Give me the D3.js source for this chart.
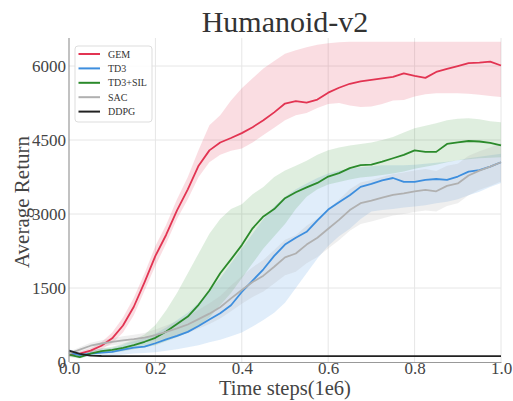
<!DOCTYPE html>
<html>
<head>
<meta charset="utf-8">
<script src="https://cdn.jsdelivr.net/npm/d3@7"></script>
<style>
  body { margin: 0; background: #fff; }
  svg { display: block; }
  .tick text { font-family: "Liberation Serif", "Times New Roman", serif; }
</style>
</head>
<body>
<svg id="chart"></svg>
<script>
// timesteps (1e6)
const steps = [0, 0.025, 0.05, 0.075, 0.1, 0.125, 0.15, 0.175, 0.2, 0.225, 0.25, 0.275, 0.3, 0.325, 0.35, 0.375, 0.4,
  0.425, 0.45, 0.475, 0.5, 0.525, 0.55, 0.575, 0.6, 0.625, 0.65, 0.675, 0.7, 0.725, 0.75, 0.775, 0.8,
  0.825, 0.85, 0.875, 0.9, 0.925, 0.95, 0.975, 1.0];

const gemMean = [150, 170, 230, 330, 480, 740, 1120, 1620, 2150, 2580, 3075, 3500, 3980, 4290, 4450, 4540, 4640,
  4760, 4900, 5060, 5240, 5290, 5260, 5320, 5460, 5560, 5640, 5690, 5720, 5750, 5780, 5850, 5800,
  5760, 5880, 5940, 6000, 6060, 6070, 6090, 6010];
const gemLow = [100, 130, 180, 260, 380, 600, 950, 1450, 1950, 2400, 2900, 3300, 3750, 4050, 4200, 4280, 4330,
  4450, 4600, 4750, 4900, 5000, 5050, 5150, 5230, 5250, 5200, 5170, 5180, 5230, 5300, 5310, 5380,
  5430, 5450, 5450, 5450, 5440, 5420, 5390, 5370];
const gemHigh = [200, 210, 280, 400, 600, 900, 1300, 1800, 2350, 2780, 3300, 3750, 4300, 4800, 5000, 5300, 5550,
  5750, 5950, 6100, 6250, 6320, 6380, 6430, 6460, 6480, 6490, 6490, 6490, 6490, 6490, 6490, 6490,
  6490, 6490, 6490, 6490, 6490, 6490, 6490, 6490];

const td3Mean = [190, 140, 170, 190, 205, 250, 290, 310, 380, 460, 530, 610, 730, 860, 990, 1150, 1420,
  1650, 1880, 2150, 2380, 2520, 2640, 2870, 3090, 3240, 3380, 3550, 3610, 3680, 3730, 3650, 3650,
  3690, 3710, 3690, 3760, 3860, 3890, 3960, 4050];
const td3Low = [120, 90, 110, 120, 130, 150, 170, 180, 200, 230, 260, 300, 340, 400, 450, 520, 600,
  720, 850, 1000, 1200, 1500, 1800, 2100, 2350, 2550, 2700, 2900, 3050, 3080, 3100, 3130, 3150,
  3180, 3220, 3250, 3300, 3380, 3450, 3550, 3630];
const td3High = [260, 200, 240, 270, 290, 350, 420, 480, 580, 700, 850, 1000, 1200, 1450, 1700, 2000, 2300,
  2600, 2900, 3150, 3350, 3500, 3620, 3730, 3820, 3880, 3920, 3950, 3970, 3990, 3990, 3990, 4000,
  4020, 4040, 4060, 4090, 4130, 4160, 4190, 4220];

const silMean = [150, 100, 170, 220, 245, 285, 340, 410, 490, 620, 770, 920, 1160, 1450, 1800, 2080, 2370,
  2710, 2950, 3100, 3320, 3440, 3540, 3630, 3760, 3830, 3930, 3990, 4000, 4060, 4130, 4200, 4290,
  4260, 4260, 4420, 4450, 4480, 4470, 4440, 4390];
const silLow = [100, 70, 130, 170, 190, 220, 260, 300, 340, 420, 500, 600, 730, 900, 1150, 1400, 1700,
  2000, 2300, 2550, 2800, 3100, 3350, 3500, 3600, 3650, 3700, 3740, 3760, 3790, 3820, 3860, 3920,
  3960, 4000, 4050, 4090, 4110, 4130, 4140, 4150];
const silHigh = [200, 140, 220, 280, 310, 370, 450, 560, 750, 1050, 1400, 1800, 2200, 2600, 2900, 3100, 3200,
  3400, 3550, 3750, 3880, 3980, 4080, 4200, 4290, 4350, 4390, 4420, 4450, 4500, 4560, 4650, 4740,
  4790, 4840, 4900, 4930, 4940, 4920, 4880, 4860];

const sacMean = [170, 250, 330, 375, 410, 440, 465, 495, 545, 610, 680, 760, 870, 980, 1110, 1290, 1460,
  1620, 1750, 1930, 2120, 2200, 2380, 2520, 2700, 2880, 3080, 3220, 3270, 3330, 3390, 3420, 3460,
  3490, 3460, 3570, 3620, 3780, 3880, 3960, 4050];
const sacLow = [130, 200, 270, 310, 340, 360, 380, 400, 430, 480, 530, 590, 680, 770, 880, 1030, 1180,
  1320, 1430, 1590, 1760, 1830, 2000, 2130, 2300, 2470, 2660, 2800, 2850, 2910, 2970, 3000, 3040,
  3070, 3050, 3160, 3220, 3380, 3490, 3570, 3660];
const sacHigh = [210, 300, 390, 440, 480, 520, 550, 590, 660, 740, 830, 930, 1060, 1190, 1340, 1550, 1740,
  1920, 2070, 2270, 2480, 2570, 2760, 2910, 3100, 3290, 3500, 3640, 3690, 3750, 3810, 3840, 3880,
  3910, 3870, 3980, 4020, 4180, 4270, 4350, 4440];

const ddpgMean = [230, 165, 130, 122, 120, 121, 120, 119, 120, 121, 120, 120, 119, 120, 121, 120, 120,
  120, 119, 120, 121, 120, 120, 120, 119, 120, 121, 120, 120, 120, 119, 120, 120, 121, 120, 120,
  119, 120, 120, 121, 120];

const names = ["GEM", "TD3", "TD3+SIL", "SAC", "DDPG"];
const colors = ["#e23452", "#3d8ede", "#2b8a2b", "#b0b0b0", "#222222"];
const xTicks = [0, 0.2, 0.4, 0.6, 0.8, 1.0];
const yTicks = [0, 1500, 3000, 4500, 6000];

const series = [
  { mean: gemMean, low: gemLow, high: gemHigh },
  { mean: td3Mean, low: td3Low, high: td3High },
  { mean: silMean, low: silLow, high: silHigh },
  { mean: sacMean, low: sacLow, high: sacHigh },
  { mean: ddpgMean, low: null, high: null }
];

const width = 513, height = 401;
const margin = { left: 69, right: 12, top: 38, bottom: 39 };

const svg = d3.select("#chart").attr("width", width).attr("height", height);

const x = d3.scaleLinear().domain([0, 1]).range([margin.left, width - margin.right]);
const y = d3.scaleLinear().domain([0, 6568]).range([height - margin.bottom, margin.top]);

const serif = "'Liberation Serif', 'Times New Roman', serif";

// grid
svg.append("g")
  .selectAll("line.vgrid")
  .data(xTicks.slice(1))
  .join("line")
  .attr("x1", d => x(d)).attr("x2", d => x(d))
  .attr("y1", y.range()[0]).attr("y2", y.range()[1])
  .attr("stroke", "#e6e6e6").attr("stroke-width", 1);

svg.append("g")
  .selectAll("line.hgrid")
  .data(yTicks.slice(1))
  .join("line")
  .attr("x1", x.range()[0]).attr("x2", x.range()[1])
  .attr("y1", d => y(d)).attr("y2", d => y(d))
  .attr("stroke", "#e6e6e6").attr("stroke-width", 1);

// bands
const area = d3.area()
  .x((d, i) => x(steps[i]))
  .y0(d => y(d[0]))
  .y1(d => y(d[1]));

const bandAlpha = [0.17, 0.16, 0.15, 0.2];
series.forEach((s, k) => {
  if (!s.low) return;
  svg.append("path")
    .datum(s.low.map((v, i) => [v, s.high[i]]))
    .attr("d", area)
    .attr("fill", colors[k])
    .attr("fill-opacity", bandAlpha[k]);
});

// mean lines
const line = d3.line()
  .x((d, i) => x(steps[i]))
  .y(d => y(d));

series.forEach((s, k) => {
  svg.append("path")
    .datum(s.mean)
    .attr("d", line)
    .attr("fill", "none")
    .attr("stroke", colors[k])
    .attr("stroke-width", 1.8)
    .attr("stroke-linejoin", "round");
});

// axes
const xAxis = svg.append("g")
  .attr("transform", `translate(0,${y(0)})`)
  .call(d3.axisBottom(x).tickValues(xTicks).tickFormat(d3.format(".1f")).tickSize(0).tickPadding(0));
const yAxis = svg.append("g")
  .attr("transform", `translate(${x(0)},0)`)
  .call(d3.axisLeft(y).tickValues(yTicks).tickFormat(d3.format("d")).tickSize(0).tickPadding(3));

[xAxis, yAxis].forEach(a => {
  a.attr("font-family", serif).attr("font-size", 17);
  a.select(".domain").attr("stroke", "#999").attr("stroke-width", 1.2);
  a.selectAll("text")
    .attr("font-family", serif)
    .attr("font-size", 17)
    .attr("fill", "#444");
});
// stretch left spine to top of plot
yAxis.select(".domain").attr("d", `M0,${y.range()[0]}V${y.range()[1]}`);

// title and labels
svg.append("text")
  .attr("x", (x.range()[0] + x.range()[1]) / 2)
  .attr("y", 32)
  .attr("text-anchor", "middle")
  .attr("font-family", serif)
  .attr("font-size", 30)
  .attr("fill", "#333")
  .text("Humanoid-v2");

svg.append("text")
  .attr("x", (x.range()[0] + x.range()[1]) / 2)
  .attr("y", 395)
  .attr("text-anchor", "middle")
  .attr("font-family", serif)
  .attr("font-size", 20.5)
  .attr("fill", "#444")
  .text("Time steps(1e6)");

svg.append("text")
  .attr("transform", `translate(29,202) rotate(-90)`)
  .attr("text-anchor", "middle")
  .attr("font-family", serif)
  .attr("font-size", 21)
  .attr("fill", "#444")
  .text("Average Return");

// legend
const legend = svg.append("g").attr("transform", "translate(75,46)");
legend.append("rect")
  .attr("width", 77).attr("height", 76)
  .attr("rx", 3)
  .attr("fill", "#fff").attr("fill-opacity", 0.85)
  .attr("stroke", "#dddddd");

const rows = legend.selectAll("g.row")
  .data(names)
  .join("g")
  .attr("transform", (d, i) => `translate(0,${8 + i * 14.4})`);
rows.append("line")
  .attr("x1", 3.5).attr("x2", 25)
  .attr("stroke", (d, i) => colors[i])
  .attr("stroke-width", 2);
rows.append("text")
  .attr("x", 33)
  .attr("dy", "0.35em")
  .attr("font-family", serif)
  .attr("font-size", 10)
  .attr("fill", "#333")
  .text(d => d);
</script>
</body>
</html>
